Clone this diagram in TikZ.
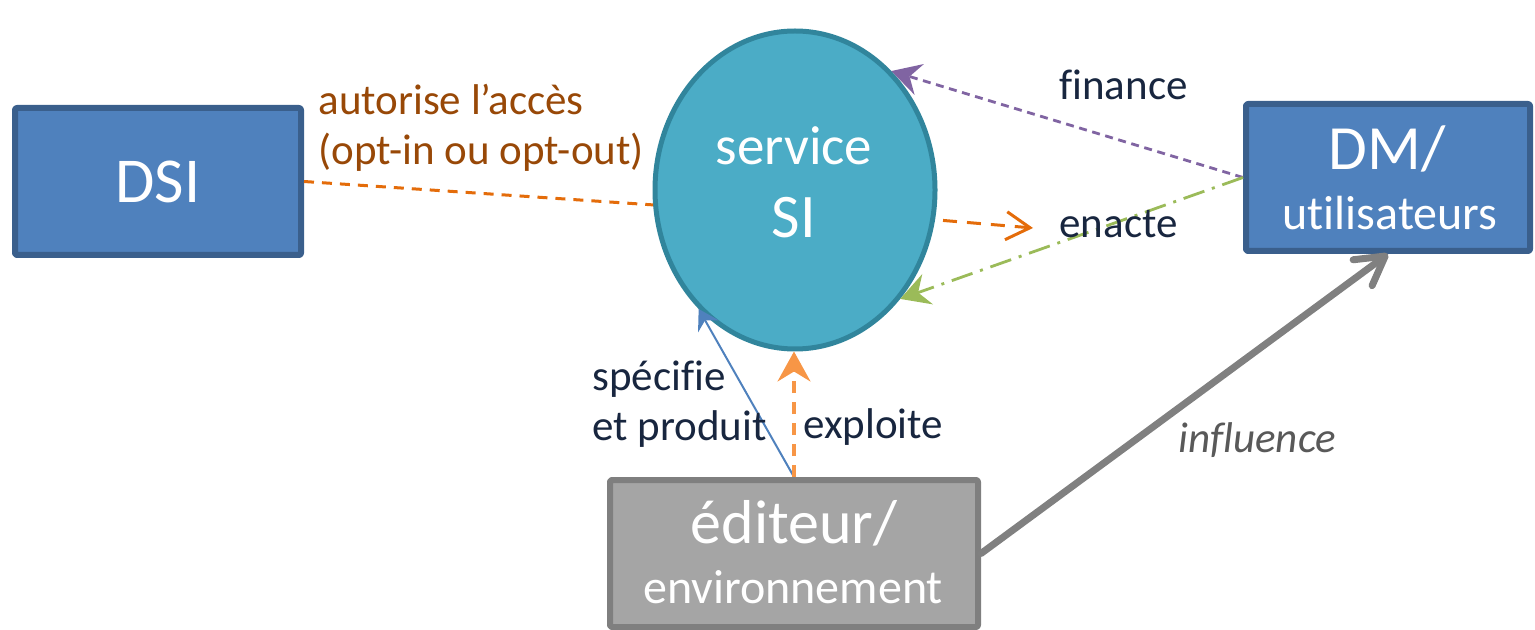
\documentclass[tikz,border=0pt]{standalone}
\usepackage{fontspec}
\setmainfont[Ligatures={NoCommon}]{Carlito}
\usetikzlibrary{arrows.meta,shapes.geometric}

\definecolor{boxblue}{HTML}{4F81BD}
\definecolor{boxblueline}{HTML}{3A5F8C}
\definecolor{sifill}{HTML}{4BACC6}
\definecolor{siline}{HTML}{31859C}
\definecolor{edfill}{HTML}{A5A5A5}
\definecolor{edline}{HTML}{7F7F7F}
\definecolor{orangedk}{HTML}{E46C0A}
\definecolor{orangelt}{HTML}{F79646}
\definecolor{purp}{HTML}{8064A2}
\definecolor{grn}{HTML}{9BBB59}
\definecolor{accesbrown}{HTML}{984807}
\definecolor{navy}{HTML}{18263F}
\definecolor{greytext}{HTML}{595959}
\definecolor{arrowgray}{HTML}{808080}

\begin{document}
\begin{tikzpicture}[x=0.5pt,y=-0.5pt,
  block/.style={rectangle, line width=3pt, inner sep=0pt, rounded corners=1pt, line join=round},
  inside/.style={anchor=base, inner sep=0pt, text=white},
  lbl/.style={anchor=base west, inner sep=0pt, text=navy, font=\fontsize{21.5}{26}\selectfont},
  dsiline/.style={orangedk, line width=1.5pt, dash pattern=on 5pt off 4pt},
  finline/.style={purp, line width=1.4pt, dash pattern=on 4pt off 2.8pt,
    -{Stealth[length=14.5pt,width=16pt,inset=5pt]}},
  enline/.style={grn, line width=1.4pt, dash pattern=on 11pt off 4pt on 1.5pt off 4pt,
    -{Stealth[length=14.5pt,width=16pt,inset=5pt]}},
  shortline/.style={orangedk, line width=1.5pt, dash pattern=on 7pt off 5pt,
    -{Straight Barb[length=12pt,width=14pt]}},
  specline/.style={boxblue, line width=1pt, -{Stealth[length=10pt,width=12pt,inset=3.5pt]}},
  exline/.style={orangelt, line width=1.6pt, dash pattern=on 6pt off 4.5pt,
    -{Stealth[length=15pt,width=16.5pt,inset=5pt]}},
  infline/.style={arrowgray, line width=3.5pt, line cap=round,
    -{Straight Barb[length=14pt,width=16pt,round]}}
]
\useasboundingbox (0,0) rectangle (1535,630);

% actors
\node[block, fill=boxblue, draw=boxblueline, minimum width=143pt, minimum height=73.5pt] (dsi) at (158,181.5) {};
\node[block, fill=boxblue, draw=boxblueline, minimum width=142pt, minimum height=73.5pt] (dm) at (1388,177.5) {};
\node[block, fill=edfill, draw=edline, minimum width=184pt, minimum height=73.5pt] (ed) at (794,553.5) {};
\node[ellipse, fill=sifill, draw=siline, line width=2.5pt, inner sep=0pt,
      minimum width=140pt, minimum height=159pt] (si) at (795,190) {};

% texts inside the shapes
\node[inside, font=\fontsize{32}{38}\selectfont] (dsiT) at (158,203) {DSI};
\node[inside, font=\fontsize{27.5}{33}\selectfont] (siA) at (794,165) {service};
\node[inside, font=\fontsize{31}{37}\selectfont] (siB) at (794,238) {SI};
\node[inside, font=\fontsize{31.5}{37}\selectfont] (dmA) at (1387,170) {DM/};
\node[inside, font=\fontsize{24}{29}\selectfont] (dmB) at (1390,230) {utilisateurs};
\node[inside, font=\fontsize{31}{37}\selectfont] (edA) at (794,543) {éditeur/};
\node[inside, font=\fontsize{24}{29}\selectfont] (edB) at (793,603) {environnement};

% relations
\draw[dsiline] (dsi.east) -- (si.186);
\draw[finline] (dm.west) -- (si.51);
\draw[enline] (dm.west) -- (si.-46);
\coordinate (entip) at (1033,228);
\draw[shortline, shorten <=4pt] (si.-12) -- (entip);
\draw[specline] (ed.north) -- (si.-129);
\draw[exline] (ed.north) -- (ed.north |- si.south);
\draw[infline] (ed.east) -- (dm.south);

% relation labels
\node[lbl, text=accesbrown] (lA) at (318,115) {autorise l’accès};
\node[lbl, text=accesbrown] (lB) at (318,165) {(opt-in ou opt-out)};
\node[lbl] (lFin) at (1059,100) {finance};
\node[lbl] (lEn) at (1059,238) {enacte};
\node[lbl] (lSp) at (592,390) {spécifie};
\node[lbl] (lPr) at (592,440) {et produit};
\node[lbl] (lEx) at (803,438) {exploite};
\node[lbl, text=greytext, font=\fontsize{21.5}{26}\selectfont\itshape] (lInf) at (1178,452) {influence};
\end{tikzpicture}
\end{document}
